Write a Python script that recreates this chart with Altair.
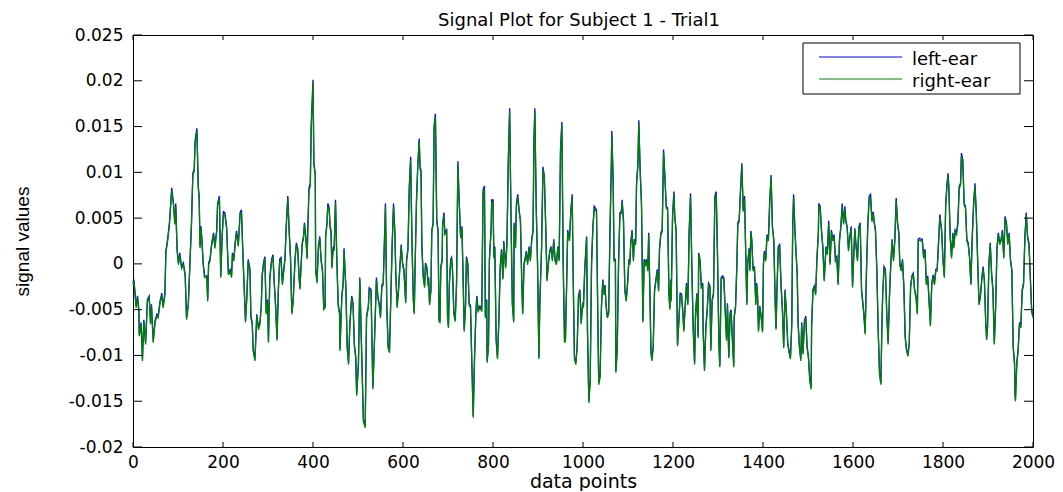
import altair as alt
import pandas as pd

title_text = "Signal Plot for Subject 1 - Trial1"
x_title = "data points"
y_title = "signal values"
series = ["left-ear", "right-ear"]
series_colors = ["#0000ff", "#008000"]
x_ticks = [0, 200, 400, 600, 800, 1000, 1200, 1400, 1600, 1800, 2000]
y_ticks = [-0.02, -0.015, -0.01, -0.005, 0, 0.005, 0.01, 0.015, 0.02, 0.025]

sample_index = [
    0, 2, 7, 10, 13, 14, 18, 21, 24, 28,
    32, 36, 39, 41, 45, 49, 53, 56, 60, 64,
    67, 71, 73, 77, 81, 86, 90, 93, 95, 98,
    101, 104, 108, 112, 116, 119, 123, 127, 130, 133,
    136, 138, 142, 145, 147, 149, 151, 153, 156, 159,
    164, 166, 168, 171, 175, 179, 182, 186, 188, 192,
    195, 198, 201, 204, 208, 212, 216, 219, 221, 224,
    227, 230, 234, 238, 241, 245, 250, 253, 256, 260,
    262, 265, 267, 271, 275, 279, 282, 285, 287, 290,
    293, 296, 299, 301, 304, 308, 311, 314, 317, 320,
    323, 326, 329, 332, 335, 338, 340, 344, 347, 350,
    353, 356, 360, 363, 366, 369, 371, 373, 376, 379,
    381, 384, 387, 388, 391, 394, 396, 400, 402, 405,
    406, 409, 412, 415, 418, 421, 424, 427, 428, 431,
    433, 436, 438, 440, 442, 445, 447, 450, 453, 456,
    459, 460, 464, 467, 469, 471, 473, 476, 479, 482,
    486, 489, 492, 495, 497, 501, 504, 508, 512, 516,
    519, 523, 525, 529, 533, 536, 539, 541, 544, 547,
    550, 553, 556, 559, 561, 564, 567, 570, 573, 576,
    579, 582, 584, 587, 590, 593, 596, 599, 602, 606,
    608, 611, 614, 617, 620, 623, 625, 627, 630, 633,
    636, 638, 640, 642, 645, 648, 650, 653, 656, 657,
    659, 662, 664, 667, 669, 672, 675, 678, 680, 682,
    684, 687, 688, 691, 693, 697, 699, 701, 703, 706,
    708, 710, 713, 716, 719, 722, 724, 728, 731, 734,
    736, 739, 741, 744, 747, 750, 753, 756, 759, 762,
    764, 767, 771,
    775, 778, 781, 783, 786, 787, 790, 792, 796, 797,
    800, 802, 804, 807, 810, 813, 816, 819, 822, 824,
    828, 831, 834, 837, 840, 843, 846, 847, 850, 852,
    855, 858, 861, 864, 866, 869, 871, 874, 877, 880,
    883, 886, 889, 891, 893, 896, 899, 902, 904, 908,
    911, 914, 917, 920, 923, 926, 929, 932, 935, 938,
    941, 944, 947, 950, 953, 956, 959, 961, 964, 966,
    970, 973, 976, 978, 981, 984, 987, 990, 993, 996,
    999, 1001, 1004, 1008, 1010, 1013, 1016, 1019, 1022, 1025,
    1030, 1033, 1035, 1038, 1041, 1044, 1047, 1049, 1051, 1054,
    1057, 1060, 1063, 1064, 1067, 1069, 1072, 1073, 1076, 1079,
    1082, 1085, 1087, 1090, 1093, 1096, 1099, 1102, 1104, 1106,
    1109, 1112, 1114, 1117, 1119, 1122, 1124, 1127, 1130, 1132,
    1133, 1136, 1139, 1141, 1144, 1146, 1149, 1151, 1153, 1156,
    1159, 1162, 1165, 1168, 1170, 1173, 1176, 1179, 1182, 1185,
    1188, 1191, 1193, 1195, 1196, 1199, 1202, 1204, 1207, 1210,
    1213, 1216, 1219, 1222, 1224, 1227, 1230, 1233, 1236, 1239,
    1242, 1245, 1248, 1250, 1253, 1256, 1257, 1260, 1263, 1266,
    1267, 1270, 1273, 1276, 1279, 1282,
    1284, 1287, 1290, 1293, 1296, 1299, 1302, 1304, 1307, 1310,
    1313, 1316, 1319, 1321, 1324, 1327, 1329, 1332, 1335, 1336,
    1339, 1342, 1344, 1347, 1350, 1353, 1356, 1359, 1361, 1364,
    1366, 1369, 1371, 1373, 1375, 1378, 1381, 1384, 1386, 1388,
    1390, 1393, 1396, 1399, 1401, 1403, 1406, 1409, 1412, 1415,
    1418, 1421, 1424, 1427, 1429, 1431, 1434, 1437, 1440, 1443,
    1446, 1449, 1452, 1455, 1458, 1461, 1464, 1466, 1468, 1471,
    1474, 1476, 1478, 1481, 1484, 1486, 1489, 1492, 1495, 1498,
    1501, 1504, 1507, 1508, 1511, 1514, 1517, 1520, 1523, 1524,
    1527, 1530, 1533, 1536,
    1540, 1543, 1546, 1549, 1552, 1555, 1558, 1561, 1564, 1567,
    1570, 1573, 1576, 1579, 1582, 1584, 1587, 1590, 1593, 1596,
    1599, 1601, 1604, 1607, 1610, 1613, 1616, 1619, 1622, 1624,
    1627, 1630, 1633, 1636, 1639, 1642, 1645, 1647, 1650, 1653,
    1656, 1659, 1662, 1664, 1666, 1669, 1672, 1675, 1678, 1681,
    1684, 1687, 1690, 1693, 1696, 1699, 1702, 1704, 1707, 1710,
    1713, 1716, 1719, 1722, 1725, 1728, 1731, 1734, 1737, 1740,
    1743, 1745, 1748, 1751, 1754, 1757, 1760, 1763, 1766, 1769,
    1772, 1775, 1778, 1781, 1784, 1787, 1790, 1793,
    1797, 1800, 1803, 1806, 1809, 1811, 1813, 1816, 1819, 1822,
    1824, 1827, 1830, 1833, 1836, 1839, 1841, 1844, 1847, 1850,
    1853, 1856, 1859, 1862, 1865, 1868, 1871, 1874, 1877, 1880,
    1883, 1886, 1889, 1892, 1895, 1897, 1899, 1902, 1905, 1908,
    1911, 1914, 1917, 1920, 1923, 1926, 1929, 1932, 1935, 1938,
    1941, 1944, 1947, 1950, 1953, 1956, 1959, 1960, 1961, 1964,
    1967, 1970, 1973, 1976, 1979, 1982, 1985, 1988, 1991, 1994,
    1997, 2000,
]

left_ear = [
    -0.0021, -0.0017, -0.0046, -0.0035, -0.0050, -0.0077, -0.0064, -0.0104, -0.0061, -0.0086,
    -0.0039, -0.0035, -0.0064, -0.0044, -0.0084, -0.0062, -0.0055, -0.0057, -0.0041, -0.0032,
    -0.0046, -0.0032, 0.0014, 0.0027, 0.0045, 0.0083, 0.0066, 0.0045, 0.0066, 0.0016,
    0.0001, 0.0012, -0.0003, 0.0001, -0.0012, -0.0059, -0.0043, 0.0008, 0.0045, 0.0099,
    0.0103, 0.0135, 0.0148, 0.0085, 0.0074, 0.0019, 0.0041, 0.0028, 0.0001, -0.0013,
    -0.0013, -0.0039, 0.0001, 0.0005, 0.0023, 0.0034, 0.0019, 0.0037, 0.0066, 0.0074,
    -0.0013, 0.0030, 0.0057, 0.0056, 0.0041, -0.0010, -0.0006, -0.0013, 0.0012, 0.0005,
    0.0023, 0.0036, 0.0021, 0.0056, 0.0059, 0.0001, -0.0062, -0.0035, 0.0005, -0.0006,
    -0.0057, -0.0064, -0.0093, -0.0104, -0.0055, -0.0070, -0.0064, -0.0046, -0.0012, 0.0001,
    0.0008, -0.0053, -0.0039, -0.0084, -0.0015, 0.0005, 0.0010, -0.0021, -0.0046, -0.0082,
    -0.0028, 0.0005, 0.0007, -0.0021, -0.0006, 0.0008, 0.0037, 0.0074, 0.0037, 0.0008,
    -0.0053, -0.0039, 0.0005, 0.0023, 0.0017, -0.0013, -0.0026, -0.0006, 0.0023, 0.0030,
    0.0045, 0.0030, 0.0007, 0.0030, 0.0083, 0.0088, 0.0150, 0.0201, 0.0110, 0.0099,
    -0.0006, -0.0019, 0.0019, 0.0030, 0.0005, -0.0006, -0.0048, -0.0046, 0.0030, 0.0045,
    0.0066, 0.0061, 0.0041, 0.0037, -0.0003, 0.0019, 0.0016, 0.0070, 0.0005, -0.0044,
    -0.0053, -0.0093, -0.0035, -0.0021, 0.0017, -0.0006, -0.0024, -0.0090, -0.0108, -0.0064,
    -0.0035, -0.0043, -0.0088, -0.0101, -0.0142, -0.0108, -0.0015, -0.0093, -0.0170, -0.0177,
    -0.0057, -0.0046, -0.0026, -0.0028, -0.0135, -0.0093, -0.0046, -0.0015, -0.0035, -0.0043,
    -0.0057, -0.0023, -0.0021, 0.0030, 0.0066, -0.0046, -0.0090, -0.0095, -0.0035, 0.0023,
    0.0066, 0.0034, -0.0010, -0.0046, -0.0028, -0.0003, 0.0021, 0.0001, -0.0006, -0.0041,
    0.0005, 0.0017, 0.0085, 0.0117, 0.0023, -0.0039, -0.0053, 0.0001, 0.0070, 0.0110,
    0.0137, 0.0105, 0.0103, 0.0019, -0.0013, -0.0024, 0.0001, -0.0003, -0.0023, -0.0015,
    -0.0043, -0.0028, 0.0037, 0.0045, 0.0150, 0.0164, 0.0048, 0.0037, -0.0061, -0.0062,
    -0.0003, 0.0005, 0.0043, 0.0056, 0.0034, 0.0037, -0.0057, -0.0068, -0.0021, 0.0005,
    0.0007, -0.0006, -0.0053, -0.0061, -0.0021, 0.0112, 0.0081, 0.0030, 0.0041, -0.0024,
    -0.0072, -0.0044, 0.0008, 0.0001, -0.0043, -0.0046, -0.0108, -0.0166, -0.0101, -0.0053,
    -0.0035, -0.0050, -0.0046,
    -0.0050, 0.0081, 0.0085, -0.0057, -0.0039, -0.0106, -0.0088, 0.0005, 0.0041, 0.0070,
    0.0070, 0.0008, 0.0019, -0.0082, -0.0102, -0.0061, -0.0003, 0.0016, -0.0015, 0.0025,
    -0.0003, 0.0023, 0.0114, 0.0170, 0.0052, -0.0043, -0.0062, 0.0045, 0.0019, 0.0066,
    0.0076, 0.0059, 0.0048, -0.0021, -0.0053, 0.0001, 0.0005, 0.0014, 0.0001, 0.0019,
    0.0005, 0.0027, 0.0037, 0.0135, 0.0170, 0.0063, 0.0001, -0.0102, -0.0043, 0.0019,
    0.0106, 0.0096, 0.0045, -0.0017, 0.0001, 0.0014, 0.0019, 0.0005, 0.0027, 0.0005,
    0.0001, 0.0019, 0.0005, 0.0125, 0.0155, 0.0001, -0.0084, -0.0082, -0.0013, 0.0037,
    0.0027, 0.0059, 0.0076, -0.0006, -0.0102, -0.0108, -0.0090, -0.0035, -0.0028, -0.0064,
    -0.0044, -0.0046, -0.0004, 0.0030, -0.0072, -0.0150, -0.0126, 0.0001, 0.0041, 0.0063,
    0.0059, -0.0061, -0.0130, -0.0122, -0.0046, -0.0017, -0.0032, -0.0023, -0.0043, -0.0057,
    -0.0053, 0.0037, 0.0110, 0.0145, 0.0092, 0.0005, 0.0005, -0.0117, -0.0093, 0.0001,
    0.0056, 0.0057, 0.0070, 0.0048, -0.0028, -0.0039, -0.0021, 0.0005, 0.0001, 0.0023,
    0.0037, 0.0005, 0.0027, 0.0023, 0.0088, 0.0110, 0.0157, 0.0103, 0.0066, -0.0013,
    -0.0062, 0.0005, 0.0001, 0.0005, -0.0006, 0.0034, -0.0039, -0.0095, -0.0104, -0.0090,
    -0.0028, -0.0017, -0.0006, -0.0028, 0.0017, 0.0034, 0.0037, 0.0125, 0.0096, 0.0063,
    0.0061, -0.0032, -0.0048, -0.0017, -0.0039, 0.0052, 0.0079, 0.0052, 0.0037, -0.0088,
    -0.0062, -0.0032, -0.0033, -0.0053, -0.0072, -0.0046, -0.0021, -0.0043, 0.0037, 0.0077,
    -0.0006, -0.0072, -0.0108, -0.0055, -0.0032, -0.0079, 0.0012, 0.0005, -0.0024, -0.0021,
    -0.0072, -0.0115, -0.0068, -0.0050, -0.0021, -0.0024,
    -0.0093, -0.0039, -0.0032, 0.0074, 0.0079, 0.0008, -0.0086, -0.0111, -0.0015, -0.0013,
    -0.0015, -0.0050, -0.0082, -0.0043, -0.0101, -0.0053, -0.0050, -0.0082, -0.0111, -0.0057,
    -0.0046, 0.0001, 0.0045, 0.0048, 0.0081, 0.0110, 0.0059, 0.0074, 0.0027, -0.0043,
    0.0001, 0.0017, -0.0006, 0.0036, 0.0027, -0.0006, -0.0003, -0.0043, -0.0021, -0.0035,
    -0.0072, -0.0046, -0.0057, -0.0073, 0.0001, 0.0014, 0.0005, 0.0032, 0.0027, 0.0070,
    0.0097, 0.0041, 0.0027, -0.0039, -0.0070, -0.0028, 0.0019, 0.0021, -0.0021, -0.0048,
    -0.0090, -0.0028, -0.0053, -0.0086, -0.0095, -0.0102, -0.0064, 0.0041, 0.0076, 0.0037,
    0.0008, -0.0010, -0.0064, -0.0090, -0.0104, -0.0064, -0.0097, -0.0062, -0.0057, -0.0090,
    -0.0101, -0.0126, -0.0135, -0.0068, -0.0028, -0.0024, -0.0032, 0.0008, 0.0034, 0.0066,
    0.0063, 0.0037, 0.0019, -0.0017,
    0.0019, 0.0012, 0.0047, 0.0001, 0.0037, 0.0027, 0.0032, 0.0005, 0.0008, -0.0021,
    0.0027, 0.0041, 0.0066, 0.0045, 0.0063, 0.0048, 0.0041, 0.0016, 0.0030, 0.0041,
    -0.0024, 0.0001, 0.0039, 0.0019, 0.0005, 0.0041, 0.0045, -0.0028, -0.0043, -0.0053,
    -0.0075, -0.0006, 0.0045, 0.0074, 0.0076, 0.0048, 0.0057, 0.0047, 0.0037, -0.0006,
    -0.0072, -0.0119, -0.0130, -0.0072, -0.0032, -0.0003, -0.0006, -0.0053, -0.0086, -0.0035,
    0.0001, 0.0027, 0.0005, 0.0027, 0.0072, 0.0045, 0.0034, 0.0001, -0.0006, 0.0005,
    -0.0024, -0.0079, -0.0093, -0.0099, -0.0086, -0.0024, -0.0013, -0.0010, -0.0028, -0.0035,
    -0.0053, 0.0027, 0.0028, 0.0027, 0.0027, 0.0008, 0.0016, -0.0021, -0.0013, -0.0039,
    -0.0066, -0.0021, -0.0012, -0.0021, -0.0006, -0.0006, 0.0023, 0.0054,
    0.0037, 0.0005, -0.0013, 0.0066, 0.0088, 0.0099, 0.0085, 0.0030, 0.0008, 0.0034,
    0.0019, 0.0037, 0.0034, 0.0045, 0.0085, 0.0088, 0.0121, 0.0114, 0.0066, 0.0063,
    0.0027, 0.0023, 0.0008, -0.0021, 0.0030, 0.0066, 0.0088, 0.0056, 0.0005, -0.0043,
    -0.0035, -0.0017, -0.0003, -0.0017, -0.0064, -0.0081, -0.0068, 0.0001, 0.0023, -0.0010,
    -0.0028, -0.0086, -0.0046, 0.0019, 0.0034, 0.0023, 0.0027, 0.0037, 0.0008, 0.0052,
    0.0045, 0.0023, 0.0034, 0.0005, -0.0006, -0.0090, -0.0108, -0.0141, -0.0148, -0.0108,
    -0.0093, -0.0064, -0.0068, -0.0028, -0.0021, 0.0030, 0.0056, 0.0030, 0.0023, -0.0013,
    -0.0050, -0.0057,
]

right_ear = [
    -0.0023, -0.0019, -0.0048, -0.0037, -0.0052, -0.0079, -0.0066, -0.0106, -0.0063, -0.0088,
    -0.0041, -0.0037, -0.0066, -0.0046, -0.0086, -0.0064, -0.0057, -0.0059, -0.0043, -0.0034,
    -0.0048, -0.0034, 0.0012, 0.0025, 0.0043, 0.0080, 0.0064, 0.0043, 0.0063, 0.0014,
    -0.0001, 0.0010, -0.0005, -0.0001, -0.0014, -0.0061, -0.0045, 0.0006, 0.0043, 0.0097,
    0.0101, 0.0132, 0.0145, 0.0083, 0.0072, 0.0017, 0.0039, 0.0026, -0.0001, -0.0015,
    -0.0015, -0.0041, -0.0001, 0.0003, 0.0021, 0.0032, 0.0017, 0.0035, 0.0064, 0.0071,
    -0.0015, 0.0028, 0.0054, 0.0054, 0.0039, -0.0012, -0.0008, -0.0015, 0.0010, 0.0003,
    0.0021, 0.0034, 0.0019, 0.0054, 0.0056, -0.0001, -0.0064, -0.0037, 0.0003, -0.0008,
    -0.0059, -0.0066, -0.0095, -0.0106, -0.0057, -0.0072, -0.0066, -0.0048, -0.0014, -0.0001,
    0.0006, -0.0055, -0.0041, -0.0086, -0.0017, 0.0003, 0.0008, -0.0023, -0.0048, -0.0084,
    -0.0030, 0.0003, 0.0005, -0.0023, -0.0008, 0.0006, 0.0035, 0.0071, 0.0035, 0.0006,
    -0.0055, -0.0041, 0.0003, 0.0021, 0.0015, -0.0015, -0.0028, -0.0008, 0.0021, 0.0028,
    0.0043, 0.0028, 0.0005, 0.0028, 0.0080, 0.0085, 0.0147, 0.0198, 0.0108, 0.0097,
    -0.0008, -0.0021, 0.0017, 0.0028, 0.0003, -0.0008, -0.0050, -0.0048, 0.0028, 0.0043,
    0.0063, 0.0059, 0.0039, 0.0035, -0.0005, 0.0017, 0.0014, 0.0067, 0.0003, -0.0046,
    -0.0055, -0.0095, -0.0037, -0.0023, 0.0015, -0.0008, -0.0026, -0.0092, -0.0110, -0.0066,
    -0.0037, -0.0045, -0.0090, -0.0103, -0.0144, -0.0110, -0.0017, -0.0095, -0.0172, -0.0179,
    -0.0059, -0.0048, -0.0028, -0.0030, -0.0137, -0.0095, -0.0048, -0.0017, -0.0037, -0.0045,
    -0.0059, -0.0025, -0.0023, 0.0028, 0.0063, -0.0048, -0.0092, -0.0097, -0.0037, 0.0021,
    0.0063, 0.0032, -0.0012, -0.0048, -0.0030, -0.0005, 0.0019, -0.0001, -0.0008, -0.0043,
    0.0003, 0.0015, 0.0082, 0.0114, 0.0021, -0.0041, -0.0055, -0.0001, 0.0068, 0.0107,
    0.0134, 0.0103, 0.0100, 0.0017, -0.0015, -0.0026, -0.0001, -0.0005, -0.0025, -0.0017,
    -0.0045, -0.0030, 0.0035, 0.0043, 0.0147, 0.0161, 0.0046, 0.0035, -0.0063, -0.0064,
    -0.0005, 0.0003, 0.0041, 0.0053, 0.0032, 0.0035, -0.0059, -0.0070, -0.0023, 0.0003,
    0.0005, -0.0008, -0.0055, -0.0063, -0.0023, 0.0109, 0.0079, 0.0028, 0.0039, -0.0026,
    -0.0074, -0.0046, 0.0006, -0.0001, -0.0045, -0.0048, -0.0110, -0.0168, -0.0103, -0.0055,
    -0.0037, -0.0052, -0.0048,
    -0.0052, 0.0078, 0.0082, -0.0059, -0.0041, -0.0108, -0.0090, 0.0003, 0.0039, 0.0067,
    0.0068, 0.0006, 0.0017, -0.0084, -0.0104, -0.0063, -0.0005, 0.0014, -0.0017, 0.0023,
    -0.0005, 0.0021, 0.0111, 0.0167, 0.0050, -0.0045, -0.0064, 0.0043, 0.0017, 0.0063,
    0.0073, 0.0057, 0.0046, -0.0023, -0.0055, -0.0001, 0.0003, 0.0012, -0.0001, 0.0017,
    0.0003, 0.0025, 0.0035, 0.0132, 0.0167, 0.0061, -0.0001, -0.0104, -0.0045, 0.0017,
    0.0103, 0.0094, 0.0043, -0.0019, -0.0001, 0.0012, 0.0017, 0.0003, 0.0025, 0.0003,
    -0.0001, 0.0017, 0.0003, 0.0122, 0.0152, -0.0001, -0.0086, -0.0084, -0.0015, 0.0035,
    0.0025, 0.0057, 0.0073, -0.0008, -0.0104, -0.0110, -0.0092, -0.0037, -0.0030, -0.0066,
    -0.0046, -0.0048, -0.0006, 0.0028, -0.0074, -0.0152, -0.0128, -0.0001, 0.0039, 0.0060,
    0.0057, -0.0063, -0.0132, -0.0124, -0.0048, -0.0019, -0.0034, -0.0025, -0.0045, -0.0059,
    -0.0055, 0.0035, 0.0107, 0.0142, 0.0090, 0.0003, 0.0003, -0.0119, -0.0095, -0.0001,
    0.0054, 0.0055, 0.0067, 0.0046, -0.0030, -0.0041, -0.0023, 0.0003, -0.0001, 0.0021,
    0.0035, 0.0003, 0.0025, 0.0021, 0.0086, 0.0107, 0.0154, 0.0101, 0.0064, -0.0015,
    -0.0064, 0.0003, -0.0001, 0.0003, -0.0008, 0.0032, -0.0041, -0.0097, -0.0106, -0.0092,
    -0.0030, -0.0019, -0.0008, -0.0030, 0.0015, 0.0032, 0.0035, 0.0122, 0.0094, 0.0061,
    0.0059, -0.0034, -0.0050, -0.0019, -0.0041, 0.0050, 0.0076, 0.0050, 0.0035, -0.0090,
    -0.0064, -0.0034, -0.0035, -0.0055, -0.0074, -0.0048, -0.0023, -0.0045, 0.0035, 0.0074,
    -0.0008, -0.0074, -0.0110, -0.0057, -0.0034, -0.0081, 0.0010, 0.0003, -0.0026, -0.0023,
    -0.0074, -0.0117, -0.0070, -0.0052, -0.0023, -0.0026,
    -0.0095, -0.0041, -0.0034, 0.0071, 0.0076, 0.0006, -0.0088, -0.0113, -0.0017, -0.0015,
    -0.0017, -0.0052, -0.0084, -0.0045, -0.0103, -0.0055, -0.0052, -0.0084, -0.0113, -0.0059,
    -0.0048, -0.0001, 0.0043, 0.0046, 0.0078, 0.0107, 0.0057, 0.0071, 0.0025, -0.0045,
    -0.0001, 0.0015, -0.0008, 0.0034, 0.0025, -0.0008, -0.0005, -0.0045, -0.0023, -0.0037,
    -0.0074, -0.0048, -0.0059, -0.0075, -0.0001, 0.0012, 0.0003, 0.0030, 0.0025, 0.0067,
    0.0094, 0.0039, 0.0025, -0.0041, -0.0072, -0.0030, 0.0017, 0.0019, -0.0023, -0.0050,
    -0.0092, -0.0030, -0.0055, -0.0088, -0.0097, -0.0104, -0.0066, 0.0039, 0.0073, 0.0035,
    0.0006, -0.0012, -0.0066, -0.0092, -0.0106, -0.0066, -0.0099, -0.0064, -0.0059, -0.0092,
    -0.0103, -0.0128, -0.0137, -0.0070, -0.0030, -0.0026, -0.0034, 0.0006, 0.0032, 0.0063,
    0.0061, 0.0035, 0.0017, -0.0019,
    0.0017, 0.0010, 0.0044, -0.0001, 0.0035, 0.0025, 0.0030, 0.0003, 0.0006, -0.0023,
    0.0025, 0.0039, 0.0063, 0.0043, 0.0060, 0.0046, 0.0039, 0.0014, 0.0028, 0.0039,
    -0.0026, -0.0001, 0.0037, 0.0017, 0.0003, 0.0039, 0.0043, -0.0030, -0.0045, -0.0055,
    -0.0077, -0.0008, 0.0043, 0.0071, 0.0073, 0.0046, 0.0055, 0.0045, 0.0035, -0.0008,
    -0.0074, -0.0121, -0.0132, -0.0074, -0.0034, -0.0005, -0.0008, -0.0055, -0.0088, -0.0037,
    -0.0001, 0.0025, 0.0003, 0.0025, 0.0069, 0.0043, 0.0032, -0.0001, -0.0008, 0.0003,
    -0.0026, -0.0081, -0.0095, -0.0101, -0.0088, -0.0026, -0.0015, -0.0012, -0.0030, -0.0037,
    -0.0055, 0.0025, 0.0026, 0.0025, 0.0025, 0.0006, 0.0014, -0.0023, -0.0015, -0.0041,
    -0.0068, -0.0023, -0.0014, -0.0023, -0.0008, -0.0008, 0.0021, 0.0051,
    0.0035, 0.0003, -0.0015, 0.0063, 0.0085, 0.0096, 0.0083, 0.0028, 0.0006, 0.0032,
    0.0017, 0.0035, 0.0032, 0.0043, 0.0082, 0.0086, 0.0118, 0.0112, 0.0064, 0.0061,
    0.0025, 0.0021, 0.0006, -0.0023, 0.0028, 0.0063, 0.0085, 0.0054, 0.0003, -0.0045,
    -0.0037, -0.0019, -0.0005, -0.0019, -0.0066, -0.0083, -0.0070, -0.0001, 0.0021, -0.0012,
    -0.0030, -0.0088, -0.0048, 0.0017, 0.0032, 0.0021, 0.0025, 0.0035, 0.0006, 0.0050,
    0.0043, 0.0021, 0.0032, 0.0003, -0.0008, -0.0092, -0.0110, -0.0143, -0.0150, -0.0110,
    -0.0095, -0.0066, -0.0070, -0.0030, -0.0023, 0.0028, 0.0054, 0.0028, 0.0021, -0.0015,
    -0.0052, -0.0059,
]

if not (len(sample_index) == len(left_ear) == len(right_ear)):
    raise SystemExit(f"length mismatch {len(sample_index)} {len(left_ear)} {len(right_ear)}")

n = len(sample_index)
df = pd.DataFrame({
    "x": sample_index + sample_index,
    "v": left_ear + right_ear,
    "s": [series[0]] * n + [series[1]] * n,
})

W, H = 900, 412
FONT = "DejaVu Sans"
xs = alt.Scale(domain=[0, 2000], nice=False, zero=False)
ys = alt.Scale(domain=[-0.02, 0.025], nice=False, zero=False)

x_axis = alt.Axis(
    values=x_ticks, title=x_title, format="d", ticks=False, tickSize=0, domain=False, grid=False,
    labelFont=FONT, labelFontSize=17, labelColor="black", labelPadding=7, labelFlush=False,
    titleFont=FONT, titleFontSize=19, titleFontWeight="normal", titleColor="black",
    titleX=450, titleY=34, titleAlign="center", titleBaseline="middle",
)
y_axis = alt.Axis(
    values=y_ticks, title=y_title, labelExpr="'' + datum.value", ticks=False, tickSize=0,
    domain=False, grid=False, labelFont=FONT, labelFontSize=17, labelColor="black",
    labelPadding=10, labelFlush=False,
    titleFont="Liberation Sans Narrow, Arial Narrow, Liberation Sans", titleFontSize=19,
    titleFontWeight="normal", titleColor="black", titleAngle=270, titleX=-111, titleY=206,
    titleAlign="center", titleBaseline="middle",
)

lines = alt.Chart(df).mark_line(strokeWidth=1.3).encode(
    x=alt.X("x:Q", scale=xs, axis=x_axis),
    y=alt.Y("v:Q", scale=ys, axis=y_axis),
    color=alt.Color("s:N", scale=alt.Scale(domain=series, range=series_colors), legend=None),
)

xt_df = pd.DataFrame({"x": x_ticks})
yt_df = pd.DataFrame({"v": y_ticks})
tick_x_bottom = alt.Chart(xt_df).mark_rule(color="black", strokeWidth=1).encode(
    x=alt.X("x:Q", scale=xs), y=alt.value(H), y2=alt.value(H - 5))
tick_x_top = alt.Chart(xt_df).mark_rule(color="black", strokeWidth=1).encode(
    x=alt.X("x:Q", scale=xs), y=alt.value(0), y2=alt.value(5))
tick_y_left = alt.Chart(yt_df).mark_rule(color="black", strokeWidth=1).encode(
    y=alt.Y("v:Q", scale=ys), x=alt.value(0), x2=alt.value(9))
tick_y_right = alt.Chart(yt_df).mark_rule(color="black", strokeWidth=1).encode(
    y=alt.Y("v:Q", scale=ys), x=alt.value(W), x2=alt.value(W - 9))

legend_box = alt.Chart(pd.DataFrame({"s": ["box"]})).mark_rect(
    fill="white", stroke="black", strokeWidth=1).encode(
    x=alt.value(670), x2=alt.value(887), y=alt.value(8), y2=alt.value(59))
leg_line_l = alt.Chart(pd.DataFrame({"s": [series[0]]})).mark_rule(
    color=series_colors[0], strokeWidth=1).encode(x=alt.value(686), x2=alt.value(769), y=alt.value(22))
leg_line_r = alt.Chart(pd.DataFrame({"s": [series[1]]})).mark_rule(
    color=series_colors[1], strokeWidth=1).encode(x=alt.value(686), x2=alt.value(769), y=alt.value(44))
leg_text_l = alt.Chart(pd.DataFrame({"s": [series[0]]})).mark_text(
    align="left", baseline="alphabetic", font=FONT, fontSize=18, color="black").encode(
    x=alt.value(779), y=alt.value(30), text="s:N")
leg_text_r = alt.Chart(pd.DataFrame({"s": [series[1]]})).mark_text(
    align="left", baseline="alphabetic", font=FONT, fontSize=18, color="black").encode(
    x=alt.value(779), y=alt.value(52), text="s:N")

title_mark = alt.Chart(pd.DataFrame({"t": [title_text]})).mark_text(
    align="center", baseline="alphabetic", font=FONT, fontSize=18, color="black").encode(
    x=alt.value(446), y=alt.value(-9), text="t:N")

chart = alt.layer(
    lines, tick_x_bottom, tick_x_top, tick_y_left, tick_y_right,
    legend_box, leg_line_l, leg_line_r, leg_text_l, leg_text_r, title_mark,
).properties(
    width=W, height=H,
    autosize=alt.AutoSizeParams(type="none"),
    padding={"left": 125, "top": 27, "right": 22, "bottom": 44},
).configure_view(stroke="black", strokeWidth=1)

chart.save("out.html", embed_options={"renderer": "svg", "actions": False})
